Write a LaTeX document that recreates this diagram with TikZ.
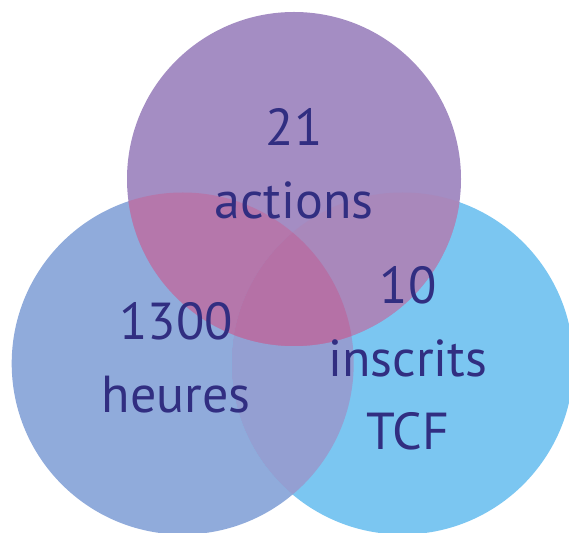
\documentclass[tikz,border=0pt]{standalone}
\usepackage{fontspec}
\setmainfont{PT Sans}
\usetikzlibrary{positioning,calc}
\definecolor{vennleft}{HTML}{90ABDB}
\definecolor{vennright}{HTML}{7BC6F1}
\definecolor{venntop}{HTML}{A48DC3}
\definecolor{vennlr}{HTML}{949FD2}
\definecolor{venntl}{HTML}{B577AB}
\definecolor{venntr}{HTML}{A988BB}
\definecolor{venntlr}{HTML}{B571A6}
\definecolor{vennink}{HTML}{312E81}

\begin{document}
\begin{tikzpicture}[x=1pt,y=1pt,
    figure/.style={text=vennink, align=center, font=\fontsize{52}{73}\selectfont}]
    \useasboundingbox (0,0) rectangle (569,532);
    % circle centres
    \coordinate (cLeft) at (182.7,168.5);
    \coordinate (cRight) at (402.5,168.5);
    \coordinate (cTop) at (294,353);
    \def\rBig{171}
    \def\rTop{167}

    % single circles
    \fill[vennleft] (cLeft) circle (\rBig);
    \fill[vennright] (cRight) circle (\rBig);
    \fill[venntop] (cTop) circle (\rTop);

    % overlaps
    \begin{scope}
        \clip (cLeft) circle (\rBig);
        \fill[vennlr] (cRight) circle (\rBig);
    \end{scope}
    \begin{scope}
        \clip (cTop) circle (\rTop);
        \fill[venntl] (cLeft) circle (\rBig);
    \end{scope}
    \begin{scope}
        \clip (cTop) circle (\rTop);
        \fill[venntr] (cRight) circle (\rBig);
    \end{scope}
    \begin{scope}
        \clip (cTop) circle (\rTop);
        \clip (cLeft) circle (\rBig);
        \fill[venntlr] (cRight) circle (\rBig);
    \end{scope}

    % labels
    \node[figure] (actions) at (294,368) {21\\actions};
    \node[figure] (heures) at (176,174) {1300\\heures};
    \node[figure] (inscrits) at (408,174) {10\\inscrits\\TCF};
\end{tikzpicture}
\end{document}
